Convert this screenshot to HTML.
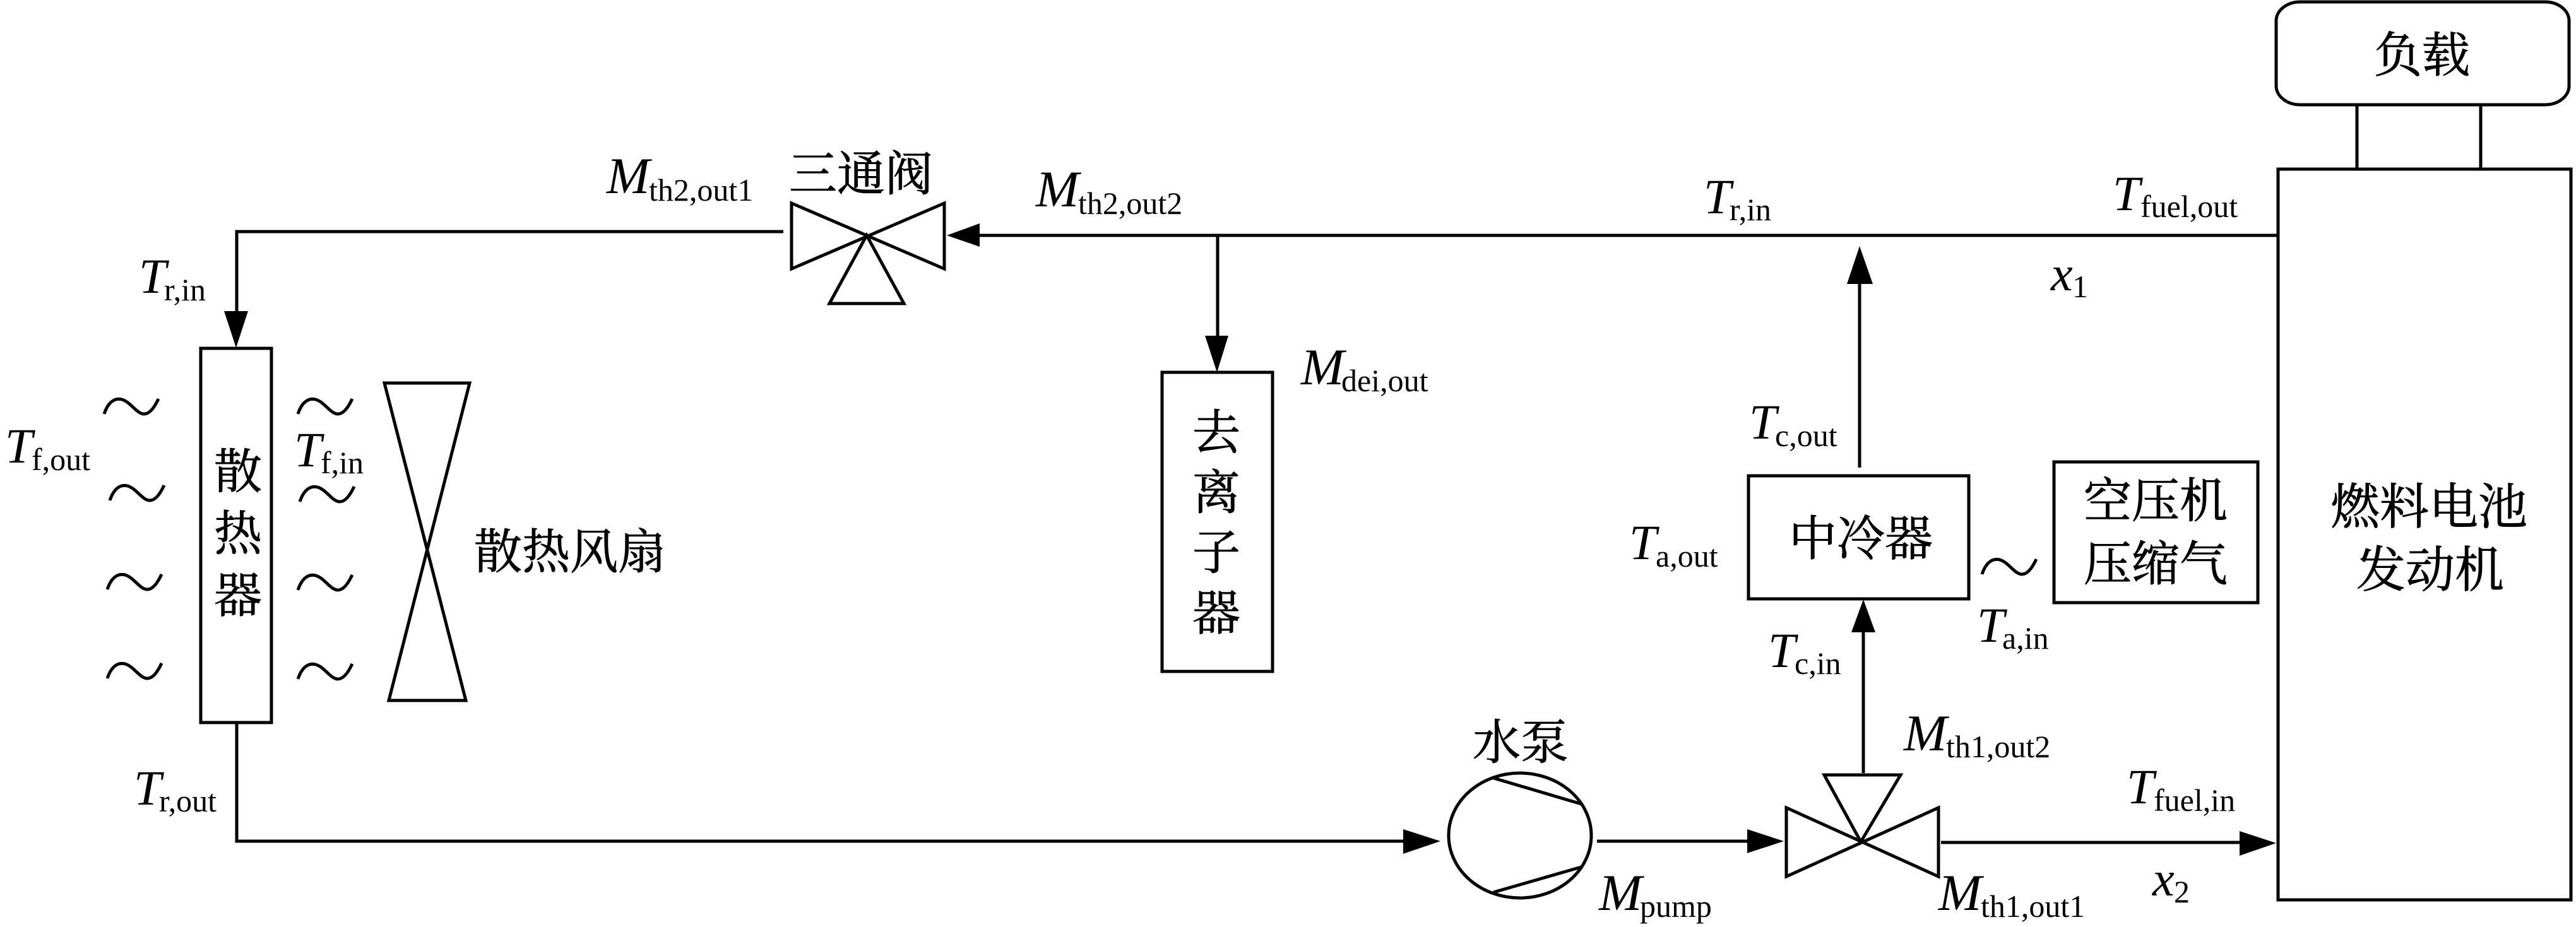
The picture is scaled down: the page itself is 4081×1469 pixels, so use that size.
<!DOCTYPE html>
<html><head><meta charset="utf-8"><style>
html,body{margin:0;padding:0;background:#fff;width:4081px;height:1469px;overflow:hidden}
svg{display:block}
.m{font:italic 78px "Liberation Serif",serif;fill:#000}
.b{font:italic 82px "Liberation Serif",serif;fill:#000}
.s{font:50px "Liberation Serif",serif;fill:#000}
.c{font:76px "Noto Serif CJK SC","Noto Serif CJK JP",serif;fill:#000;stroke:#000;stroke-width:.9}
.k{fill:none;stroke:#000;stroke-width:5;stroke-linejoin:miter}
</style></head><body>
<svg xmlns="http://www.w3.org/2000/svg" width="4081" height="1469" viewBox="0 0 4081 1469">
<defs><path id="t" d="M0,26 C6,8 16,0 28,3 C42,7 50,24 62,26 C72,27 80,15 86,2" fill="none" stroke="#000" stroke-width="5"/></defs>

<!-- lines -->
<path class="k" d="M1241,367 H375 V495"/>
<path class="k" d="M3609,373 H1550"/>
<path class="k" d="M1929,373 V535"/>
<path class="k" d="M2946,741 V448"/>
<path class="k" d="M2952,1225 V1000"/>
<path class="k" d="M375,1145 V1333 H2225"/>
<path class="k" d="M2530,1333 H2770"/>
<path class="k" d="M3075,1335 H3550"/>
<path class="k" d="M3734,166 V268 M3930,166 V268"/>

<!-- arrowheads -->
<polygon points="355,493 393,493 374,551"/>
<polygon points="1500,373 1552,354 1552,391"/>
<polygon points="1909,532 1946,532 1928,590"/>
<polygon points="2946,390 2926,450 2967,450"/>
<polygon points="2952,950 2933,1002 2971,1002"/>
<polygon points="2282,1333 2223,1314 2223,1353"/>
<polygon points="2826,1333 2768,1314 2768,1352"/>
<polygon points="3606,1336 3548,1317 3548,1356"/>

<!-- boxes -->
<rect class="k" x="318" y="552" width="112" height="593"/>
<rect class="k" x="1841" y="590" width="175" height="474"/>
<rect class="k" x="2770" y="754" width="349" height="195"/>
<rect class="k" x="3254" y="732" width="323" height="223"/>
<rect class="k" x="3606" y="3" width="464" height="163" rx="38" ry="30"/>
<rect class="k" x="3609" y="268" width="464" height="1158"/>

<!-- fan -->
<path class="k" d="M609,607 H744 L616,1110 H738 Z"/>

<!-- valve 1 -->
<path class="k" d="M1254,322 V426 L1496,322 V426 Z"/>
<path class="k" d="M1373,373 L1314,481 H1432 Z"/>

<!-- valve 2 -->
<path class="k" d="M2830,1280 V1389 L3071,1280 V1389 Z"/>
<path class="k" d="M2948,1334 L2890,1228 H3011 Z"/>

<!-- pump -->
<ellipse class="k" cx="2408" cy="1324" rx="113" ry="99"/>
<path class="k" d="M2363,1232 L2505,1274 M2366,1414 L2505,1374"/>

<!-- tildes -->
<use href="#t" x="165" y="630"/><use href="#t" x="174" y="767"/><use href="#t" x="170" y="908"/><use href="#t" x="170" y="1049"/>
<use href="#t" x="472" y="630"/><use href="#t" x="475" y="769"/><use href="#t" x="472" y="909"/><use href="#t" x="472" y="1050"/>
<use href="#t" x="3140" y="884"/>

<!-- CJK labels -->
<text class="c" x="377" y="774" text-anchor="middle">散</text>
<text class="c" x="377" y="872" text-anchor="middle">热</text>
<text class="c" x="377" y="970" text-anchor="middle">器</text>
<text class="c" x="751" y="901">散热风扇</text>
<text class="c" x="1250" y="302">三通阀</text>
<text class="c" x="1927" y="712" text-anchor="middle">去</text>
<text class="c" x="1927" y="807" text-anchor="middle">离</text>
<text class="c" x="1927" y="902" text-anchor="middle">子</text>
<text class="c" x="1927" y="998" text-anchor="middle">器</text>
<text class="c" x="2333" y="1203">水泵</text>
<text class="c" x="2834" y="880">中冷器</text>
<text class="c" x="3301" y="820">空压机</text>
<text class="c" x="3301" y="920">压缩气</text>
<text class="c" x="3761" y="114">负载</text>
<text class="c" x="3692" y="830" style="font-size:78px">燃料电池</text>
<text class="c" x="3733" y="930" style="font-size:78px">发动机</text>

<!-- math labels -->
<text class="m" x="8" y="733">T</text><text class="s" x="50" y="745">f,out</text>
<text class="m" x="220" y="464">T</text><text class="s" x="260" y="476">r,in</text>
<text class="m" x="466" y="739">T</text><text class="s" x="508" y="750">f,in</text>
<text class="m" x="212" y="1275">T</text><text class="s" x="252" y="1286">r,out</text>
<text class="b" x="961" y="306">M</text><text class="s" x="1028" y="318">th2,out1</text>
<text class="b" x="1641" y="327">M</text><text class="s" x="1708" y="339">th2,out2</text>
<text class="b" x="2061" y="609">M</text><text class="s" x="2125" y="620">dei,out</text>
<text class="m" x="2699" y="338">T</text><text class="s" x="2740" y="349">r,in</text>
<text class="m" x="3347" y="333">T</text><text class="s" x="3391" y="344">fuel,out</text>
<text class="m" x="3249" y="460">x</text><text class="s" x="3283" y="471">1</text>
<text class="m" x="2771" y="695">T</text><text class="s" x="2812" y="707">c,out</text>
<text class="m" x="2581" y="886">T</text><text class="s" x="2623" y="898">a,out</text>
<text class="m" x="2801" y="1057">T</text><text class="s" x="2843" y="1068">c,in</text>
<text class="m" x="3132" y="1017">T</text><text class="s" x="3172" y="1028">a,in</text>
<text class="b" x="3016" y="1189">M</text><text class="s" x="3083" y="1200">th1,out2</text>
<text class="m" x="3369" y="1273">T</text><text class="s" x="3412" y="1285">fuel,in</text>
<text class="m" x="3410" y="1419">x</text><text class="s" x="3444" y="1430">2</text>
<text class="b" x="2533" y="1442">M</text><text class="s" x="2598" y="1453">pump</text>
<text class="b" x="3071" y="1442">M</text><text class="s" x="3138" y="1453">th1,out1</text>
</svg>
</body></html>
